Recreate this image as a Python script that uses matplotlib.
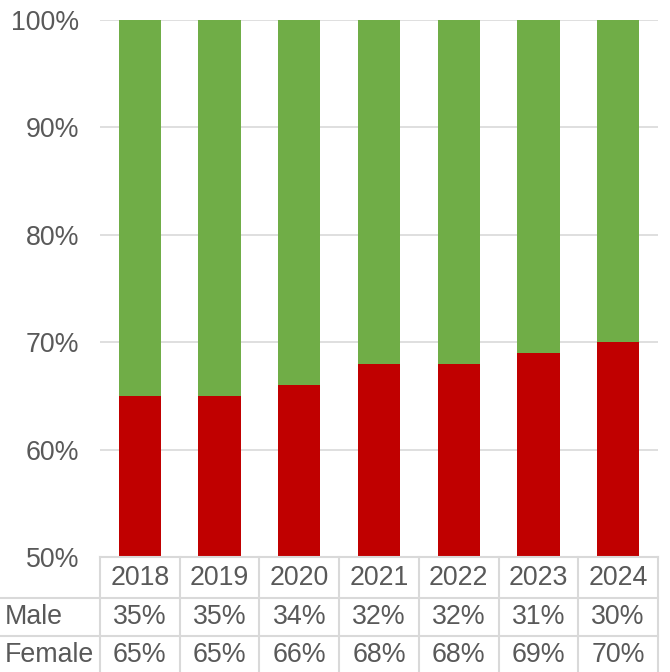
import matplotlib
matplotlib.use("Agg")
import matplotlib.pyplot as plt
import matplotlib.transforms as mtransforms
from matplotlib.lines import Line2D

years = ["2018", "2019", "2020", "2021", "2022", "2023", "2024"]
male = [35, 35, 34, 32, 32, 31, 30]
female = [65, 65, 66, 68, 68, 69, 70]

red = "#C00000"
green = "#70AD47"
grid_col = "#D9D9D9"
text_col = "#595959"
fs = 19.3

plt.rcParams['font.family'] = ['Liberation Sans', 'DejaVu Sans']

W, H = 670, 672
fig = plt.figure(figsize=(W / 100, H / 100), dpi=100)
# plot area in pixels: x 100..658, y 20..557
ax = fig.add_axes([100 / W, 1 - 557 / H, 558 / W, 537 / H])

x = list(range(len(years)))
ax.bar(x, female, width=0.53, color=red, zorder=2)
ax.bar(x, male, width=0.53, bottom=female, color=green, zorder=2)

ax.set_ylim(50, 100)
ax.set_xlim(-0.5, len(years) - 0.5)
ax.set_yticks([50, 60, 70, 80, 90, 100])
ax.set_yticklabels([f"{v}%" for v in [50, 60, 70, 80, 90, 100]], fontsize=fs, color=text_col)
ax.tick_params(axis="y", length=0, pad=15)
ax.set_xticks([])
ax.grid(axis="y", color=grid_col, linewidth=1.2, zorder=0)
for s in ax.spines.values():
    s.set_visible(False)

# data table below the plot
def fy(px):
    return 1 - px / H

tr = mtransforms.blended_transform_factory(ax.transData, fig.transFigure)
row_lines = [557, 598, 636]
for i, py in enumerate(row_lines):
    x0 = 100 / W if i == 0 else 0
    fig.add_artist(Line2D([x0, 658 / W], [fy(py), fy(py)], color=grid_col, linewidth=1.5))
for k in range(len(years) + 1):
    xp = (100 + k * 558 / len(years)) / W
    fig.add_artist(Line2D([xp, xp], [fy(557), 0], color=grid_col, linewidth=1.5))

for i, yr in enumerate(years):
    fig.text(i, fy(578), yr, transform=tr, ha="center", va="center", fontsize=fs, color=text_col)
    fig.text(i, fy(617), f"{male[i]}%", transform=tr, ha="center", va="center", fontsize=fs, color=text_col)
    fig.text(i, fy(655), f"{female[i]}%", transform=tr, ha="center", va="center", fontsize=fs, color=text_col)

fig.text(5 / W, fy(617), "Male", ha="left", va="center", fontsize=fs, color=text_col)
fig.text(5 / W, fy(655), "Female", ha="left", va="center", fontsize=fs, color=text_col)

fig.savefig("out.png", dpi=100)
